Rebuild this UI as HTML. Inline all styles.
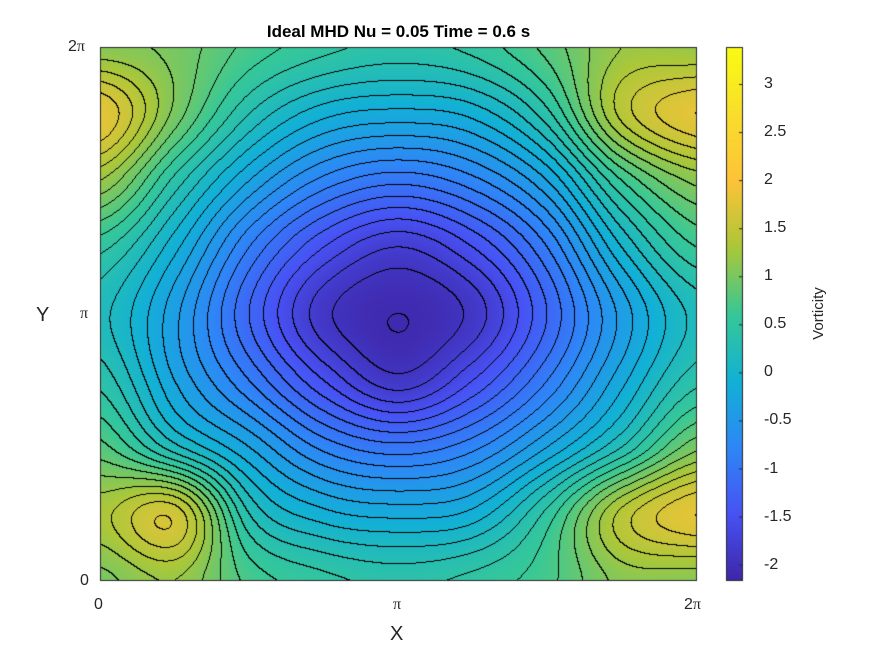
<!DOCTYPE html>
<html><head><meta charset="utf-8"><style>
body{margin:0;background:#fff;width:875px;height:656px;overflow:hidden;font-family:"Liberation Sans",sans-serif}
#root{position:relative;width:875px;height:656px}
.t{position:absolute;font-size:15px;color:#262626;white-space:nowrap}
</style></head><body>
<div id="root">
<div class="t" style="left:0;width:797px;top:22px;text-align:center;font-weight:bold;font-size:17px;color:#000">Ideal MHD Nu = 0.05 Time = 0.6 s</div>
<canvas id="cv" width="875" height="656" style="position:absolute;left:0;top:0"></canvas>
<div class="t" style="left:94px;top:596px;font-size:16px">0</div>
<div class="t" style="left:393px;top:596px;font-size:16px;font-family:'Liberation Serif',serif">π</div>
<div class="t" style="left:684px;top:596px;font-size:16px">2<span style="font-family:'Liberation Serif',serif">π</span></div>
<div class="t" style="left:68px;top:38px;font-size:16px">2<span style="font-family:'Liberation Serif',serif">π</span></div>
<div class="t" style="left:80px;top:305px;font-size:16px;font-family:'Liberation Serif',serif">π</div>
<div class="t" style="left:80px;top:572px;font-size:16px">0</div>
<div class="t" style="left:390px;top:623px;font-size:20px">X</div>
<div class="t" style="left:36px;top:304px;font-size:20px">Y</div>
<div class="t" style="left:792px;top:305px;font-size:15px;transform:rotate(-90deg);transform-origin:center">Vorticity</div>
<div id="cbt"></div>
</div>
<script>
const gridRows = [
 [1.1,1.0,0.7,0.5,0.4,0.5,0.8,1.2,1.2],
 [1.8,1.0,0.3,-0.1,-0.2,-0.1,0.4,1.4,1.8],
 [1.2,0.4,-0.3,-0.8,-1.0,-0.8,-0.3,0.6,1.1],
 [0.5,-0.1,-0.9,-1.5,-1.8,-1.5,-0.9,0.0,0.6],
 [0.2,-0.4,-1.2,-1.9,-2.1,-1.9,-1.2,-0.4,0.2],
 [0.4,-0.3,-0.9,-1.5,-1.9,-1.5,-0.9,-0.2,0.4],
 [0.8,0.2,-0.3,-0.8,-1.0,-0.8,-0.3,0.3,1.0],
 [1.3,1.6,0.3,-0.1,-0.2,-0.1,0.5,1.4,1.8],
 [1.0,1.2,0.7,0.5,0.4,0.5,0.7,1.1,1.1]
];
const cbTicks = [3,2.5,2,1.5,1,0.5,0,-0.5,-1,-1.5,-2];
const cMin=-2.17, cMax=3.385, step=0.15;
const PX0=100,PX1=697,PY0=47,PY1=581, CBX0=726,CBX1=743;
const stops=[[0,62,38,168],[0.125,72,82,244],[0.25,46,135,247],[0.375,18,177,214],[0.5,55,200,151],[0.625,171,199,57],[0.75,254,195,56],[0.875,249,222,44],[1,249,251,20]];
function cmap(t){t=Math.max(0,Math.min(1,t));for(let i=1;i<stops.length;i++){if(t<=stops[i][0]){const a=stops[i-1],b=stops[i],f=(t-a[0])/(b[0]-a[0]);return [a[1]+(b[1]-a[1])*f,a[2]+(b[2]-a[2])*f,a[3]+(b[3]-a[3])*f];}}return stops[stops.length-1].slice(1);}
const R=gridRows.length,C=gridRows[0].length;
function g(r,c){r=Math.max(0,Math.min(R-1,r));c=Math.max(0,Math.min(C-1,c));return gridRows[r][c];}
function cr(p0,p1,p2,p3,t){return 0.5*(2*p1+(-p0+p2)*t+(2*p0-5*p1+4*p2-p3)*t*t+(-p0+3*p1-3*p2+p3)*t*t*t);}
function field(fx,fy){const x=fx*(C-1),y=fy*(R-1);const c=Math.min(C-2,Math.floor(x)),r=Math.min(R-2,Math.floor(y));const tx=x-c,ty=y-r;const rows=[];for(let k=-1;k<3;k++){rows.push(cr(g(r+k,c-1),g(r+k,c),g(r+k,c+1),g(r+k,c+2),tx));}return cr(rows[0],rows[1],rows[2],rows[3],ty);}
const cv=document.getElementById('cv'),ctx=cv.getContext('2d');
const W=PX1-PX0,H=PY1-PY0;
const vals=new Float32Array(W*H);
for(let j=0;j<H;j++)for(let i=0;i<W;i++)vals[j*W+i]=field(i/(W-1),j/(H-1));
const img=ctx.createImageData(W,H);
for(let j=0;j<H;j++)for(let i=0;i<W;i++){const v=vals[j*W+i];let [r,gg,b]=cmap((v-cMin)/(cMax-cMin));const l=Math.floor(v/step);let edge=false;if(i+1<W&&Math.floor(vals[j*W+i+1]/step)!==l)edge=true;if(j+1<H&&Math.floor(vals[(j+1)*W+i]/step)!==l)edge=true;if(edge){r=gg=b=0;}const o=(j*W+i)*4;img.data[o]=r;img.data[o+1]=gg;img.data[o+2]=b;img.data[o+3]=255;}
ctx.putImageData(img,PX0,PY0);
ctx.strokeStyle='#262626';ctx.lineWidth=1;ctx.strokeRect(PX0+0.5,PY0+0.5,W-1,H-1);
for(let y=PY0;y<PY1;y++){const v=cMax-(y-PY0)/(PY1-PY0)*(cMax-cMin);const [r,gg,b]=cmap((v-cMin)/(cMax-cMin));ctx.fillStyle=`rgb(${r|0},${gg|0},${b|0})`;ctx.fillRect(CBX0,y,CBX1-CBX0,1);}
ctx.strokeRect(CBX0+0.5,PY0+0.5,CBX1-CBX0-1,PY1-PY0-1);
const yOf=v=>PY0+(cMax-v)/(cMax-cMin)*(PY1-PY0);
const cbt=document.getElementById('cbt');
cbTicks.forEach(v=>{const y=yOf(v);ctx.beginPath();ctx.moveTo(CBX1-4,y+0.5);ctx.lineTo(CBX1,y+0.5);ctx.stroke();
const d=document.createElement('div');d.className='t';


d.style.left='764px';d.style.top=(y-9)+'px';d.style.fontSize='16px';d.textContent=String(v);cbt.appendChild(d);});
</script>
</body></html>
